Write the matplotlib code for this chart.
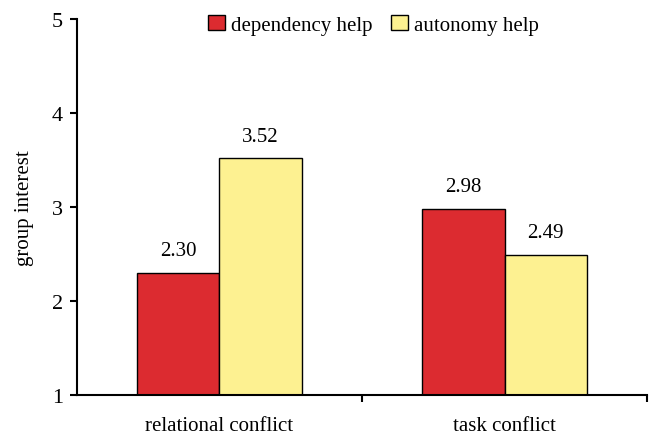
import matplotlib
matplotlib.use("Agg")
import matplotlib.pyplot as plt
import numpy as np

# data
categories = ["relational conflict", "task conflict"]
dependency_help = [2.30, 2.98]
autonomy_help = [3.52, 2.49]
series_labels = ["dependency help", "autonomy help"]

red = "#dc2b30"
yellow = "#fdf191"

plt.rcParams["font.family"] = ["Liberation Serif", "DejaVu Serif"]

fig = plt.figure(figsize=(6.51, 4.35), dpi=100)
ax = fig.add_axes([0.118, 0.090, 0.876, 0.864])

x = np.arange(len(categories))
w = 0.29
ax.bar(x - w / 2, np.array(dependency_help) - 1, w, bottom=1, color=red,
       edgecolor="black", linewidth=1.0, label=series_labels[0])
ax.bar(x + w / 2, np.array(autonomy_help) - 1, w, bottom=1, color=yellow,
       edgecolor="black", linewidth=1.0, label=series_labels[1])

for xs, vals in [(x - w / 2, dependency_help), (x + w / 2, autonomy_help)]:
    for xi, v in zip(xs, vals):
        ax.annotate(f"{v:.2f}", (xi, v), xytext=(0, 9), textcoords="offset points",
                    ha="center", va="bottom", fontsize=15)

ax.set_xlim(-0.5, 1.5)
ax.set_ylim(1, 5)
ax.set_yticks([1, 2, 3, 4, 5])
ax.set_xticks(x)
ax.set_xticklabels(categories)
ax.set_xticks([0.5, 1.5], minor=True)
ax.tick_params(axis="x", which="major", length=0, pad=15, labelsize=15)
ax.tick_params(axis="x", which="minor", length=5, width=1.5, direction="out")
ax.tick_params(axis="y", length=5, width=1.5, direction="out", pad=5, labelsize=16)

for s in ["top", "right"]:
    ax.spines[s].set_visible(False)
for s in ["left", "bottom"]:
    ax.spines[s].set_linewidth(1.5)

ax.set_ylabel("group interest", fontsize=15, labelpad=13)

ax.legend(loc="center", bbox_to_anchor=(0.52, 0.985), ncol=2, frameon=False,
          fontsize=15, handlelength=0.8, handleheight=0.8, handletextpad=0.3,
          columnspacing=0.9)

fig.savefig("out.png", dpi=100)
